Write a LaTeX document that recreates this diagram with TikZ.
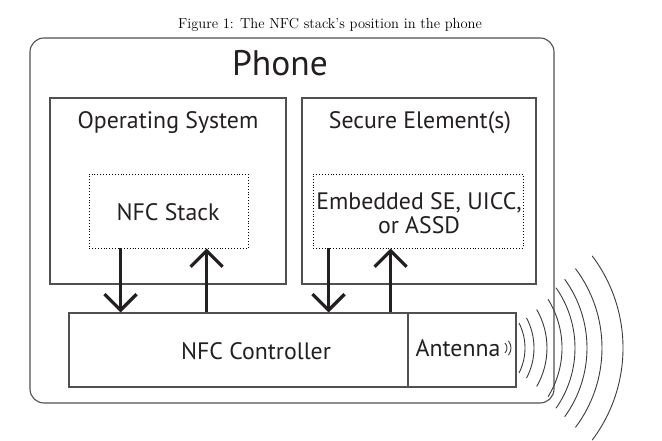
\documentclass[tikz,border=0pt]{standalone}
\usepackage{fontspec}
\newfontfamily\diagfont{PT Sans}
\usetikzlibrary{arrows.meta}
\definecolor{ink}{HTML}{231F20}
\definecolor{linegray}{HTML}{505050}
\definecolor{wavegray}{HTML}{3A3A3A}
\tikzset{
  box/.style={draw=linegray,line width=1.1pt,inner sep=0pt},
  dotbox/.style={draw=black,dotted,line width=0.9pt,inner sep=0pt},
  lbl/.style={font=\diagfont\fontsize{23.8}{27}\selectfont,text=ink,anchor=base,inner sep=0pt},
  flow/.style={draw=ink,line width=3.2pt,-{Straight Barb[length=16pt,width=32pt]}},
  wave/.style={draw=wavegray,line width=0.9pt},
}
\begin{document}
\begin{tikzpicture}[x=1pt,y=-1pt]
\useasboundingbox (0,0) rectangle (662,441);
\node[font=\fontsize{14.5}{17}\selectfont,anchor=base] (caption) at (330,29) {Figure 1: The NFC stack's position in the phone};
% boxes
\node[box,rounded corners=14pt,minimum width=524pt,minimum height=365pt] (phone) at (292,220.5) {};
\node[box,minimum width=236pt,minimum height=186pt] (os) at (168,191) {};
\node[box,minimum width=234pt,minimum height=186pt] (se) at (419,191) {};
\node[dotbox,minimum width=159pt,minimum height=74pt] (stack) at (168.5,211) {};
\node[dotbox,minimum width=210pt,minimum height=74pt] (emb) at (418,211) {};
\node[box,minimum width=339pt,minimum height=74pt] (ctrl) at (238.5,350) {};
\node[box,minimum width=108pt,minimum height=74pt] (ant) at (462,350) {};
% labels
\node[lbl,font=\diagfont\fontsize{35.5}{40}\selectfont] (phonetxt) at (280,76) {Phone};
\node[lbl] (ostxt) at (168,129) {Operating System};
\node[lbl] (setxt) at (420,129) {Secure Element(s)};
\node[lbl] (stacktxt) at (168,221) {NFC Stack};
\node[lbl,align=center,anchor=center,font=\diagfont\fontsize{23.8}{23.5}\selectfont] (embtxt) at (419,213) {Embedded SE, UICC,\\or ASSD};
\node[lbl] (ctrltxt) at (256,359) {NFC Controller};
\node[lbl] (anttxt) at (458,356) {Antenna};
% arrows
\coordinate (d1) at ([xshift=32pt]stack.south west);
\coordinate (u1) at ([xshift=118pt]stack.south west);
\coordinate (d2) at ([xshift=16pt]emb.south west);
\coordinate (u2) at ([xshift=78pt]emb.south west);
\draw[flow] (d1) -- (d1 |- ctrl.north);
\draw[flow] (u1 |- ctrl.north) -- (u1);
\draw[flow] (d2) -- (d2 |- ctrl.north);
\draw[flow] (u2 |- ctrl.north) -- (u2);
% waves
\coordinate (wc) at (470,348);
\coordinate (wt) at (500,348);
\foreach \r/\a in {7/45,11/40}
  \draw[wave] ([shift={(-\a:\r)}]wt) arc[start angle=-\a,end angle=\a,radius=\r];
\foreach \r/\a in {55/27,64/28,77/30,92/32,105/35,117/36,132/37,153/37}
  \draw[wave] ([shift={(-\a:\r)}]wc) arc[start angle=-\a,end angle=\a,radius=\r];
\end{tikzpicture}
\end{document}
